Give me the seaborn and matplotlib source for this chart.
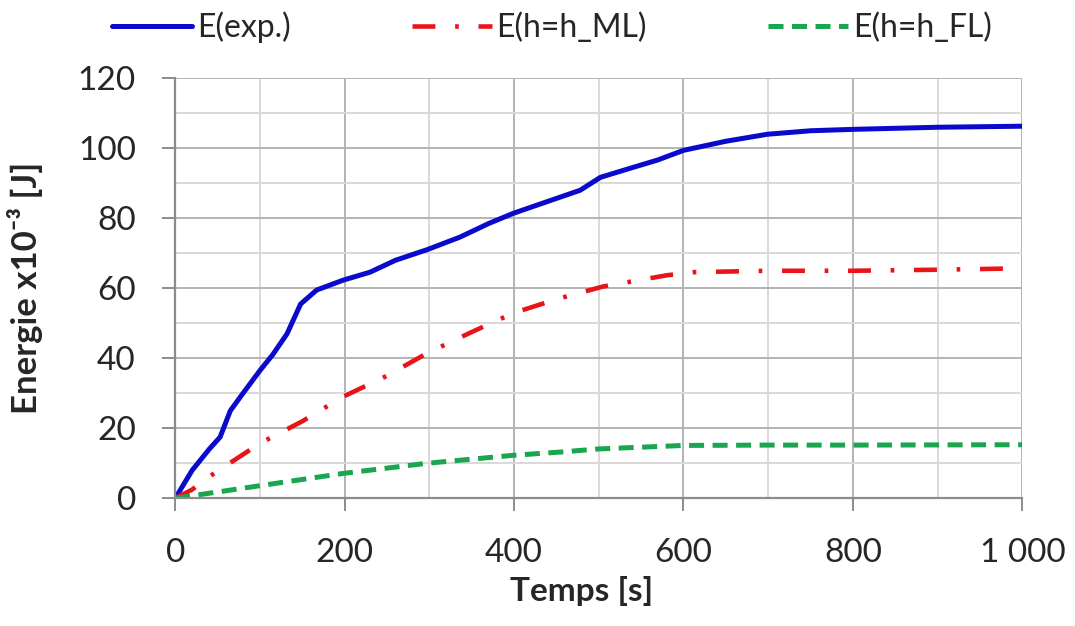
import matplotlib
matplotlib.use("Agg")
import matplotlib.pyplot as plt
import seaborn as sns
import pandas as pd

# values
t_exp = [0, 20, 40, 53, 65, 80, 100, 115, 132, 148, 167, 198, 230, 260, 297, 336, 370, 399, 430, 454, 478, 502, 540, 569, 600, 650, 699, 750, 800, 900, 1000]
e_exp = [0, 8, 14, 17.5, 25, 30, 36.5, 41, 47, 55.5, 59.5, 62.3, 64.6, 68, 71, 74.6, 78.5, 81.4, 84, 86, 88, 91.7, 94.5, 96.6, 99.4, 102, 104, 105, 105.4, 106, 106.3]

t_ml = [0, 20, 39, 100, 150, 198, 250, 297, 350, 399, 435, 458, 505, 580, 612, 699, 800, 900, 1000]
e_ml = [0, 2.5, 6, 15.7, 22, 29, 35, 41.4, 47.5, 52.9, 55.7, 57.4, 60.5, 63.7, 64.6, 65, 65, 65.3, 65.7]

t_fl = [0, 100, 198, 297, 400, 454, 500, 600, 700, 800, 1000]
e_fl = [0, 3.6, 7.1, 10, 12.3, 13.2, 14.1, 15.1, 15.2, 15.2, 15.3]

series_names = ["E(exp.)", "E(h=h_ML)", "E(h=h_FL)"]
x_ticks = [0, 200, 400, 600, 800, 1000]
x_tick_labels = ["0", "200", "400", "600", "800", "1 000"]
y_ticks = [0, 20, 40, 60, 80, 100, 120]

sns.set_theme(style="white")
plt.rcParams["font.family"] = ["Lato", "DejaVu Sans"]

df_exp = pd.DataFrame({"t": t_exp, "e": e_exp})
df_ml = pd.DataFrame({"t": t_ml, "e": e_ml})
df_fl = pd.DataFrame({"t": t_fl, "e": e_fl})

fig = plt.figure(figsize=(10.75, 6.26), dpi=100)
ax = fig.add_axes([0.163, 0.204, 0.788, 0.671])

ax.grid(True, which="major", color="#b3b3b3", lw=1.4, zorder=0)
ax.grid(True, which="minor", color="#d9d9d9", lw=1.4, zorder=0)
ax.set_axisbelow(True)

sns.lineplot(df_exp, x="t", y="e", ax=ax, color="#0a0acc", lw=3.6, label=series_names[0])
sns.lineplot(df_ml, x="t", y="e", ax=ax, color="#e8141a", lw=3.3, label=series_names[1])
sns.lineplot(df_fl, x="t", y="e", ax=ax, color="#1aa550", lw=3.6, label=series_names[2])
ax.lines[1].set_dashes((5.0, 4.3, 0.8, 4.3))
ax.lines[2].set_dashes((3.0, 1.7))

ax.set_xlim(0, 1000)
ax.set_ylim(0, 120)
ax.set_xticks(x_ticks)
ax.set_xticklabels(x_tick_labels)
ax.set_xticks(range(100, 1000, 200), minor=True)
ax.set_yticks(y_ticks)
ax.set_yticks(range(10, 120, 20), minor=True)

ax.tick_params(axis="both", which="major", length=9.4, width=1.4, color="#8c8c8c",
               labelsize=24, pad=19, direction="out", bottom=True, left=True)
ax.tick_params(axis="both", which="minor", length=0)
for side in ["top", "right"]:
    ax.spines[side].set_visible(False)
for side in ["left", "bottom"]:
    ax.spines[side].set_color("#8c8c8c")
    ax.spines[side].set_linewidth(1.6)

ax.set_xlabel("Temps [s]", fontsize=24, fontweight="bold", labelpad=6)
ax.xaxis.set_label_coords(0.48, -0.185)
ax.set_ylabel("Energie x10⁻³ [J]", fontsize=25, fontweight="bold")
ax.yaxis.set_label_coords(-0.156, 0.5)

ax.get_legend().remove()
fig.legend(*ax.get_legend_handles_labels(), loc="center left",
           bbox_to_anchor=(112 / 1075, 1 - 27 / 626), borderaxespad=0, borderpad=0,
           ncol=3, frameon=False, fontsize=23, handlelength=2.5, handletextpad=0.15,
           columnspacing=3.8)

fig.savefig("out.png", dpi=100)
